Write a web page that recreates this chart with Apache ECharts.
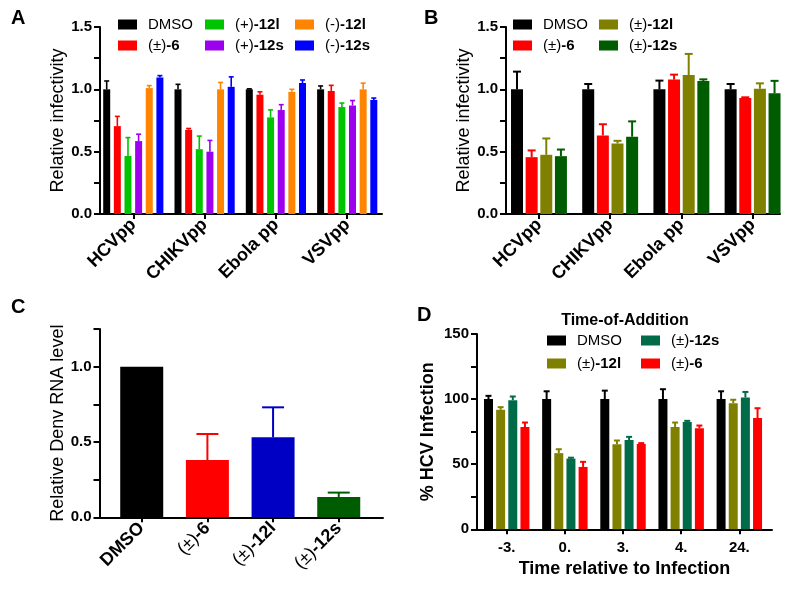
<!DOCTYPE html>
<html><head><meta charset="utf-8">
<script src="https://cdn.jsdelivr.net/npm/echarts@6/dist/echarts.min.js"></script>
<style>html,body{margin:0;padding:0;background:#fff}#c{width:800px;height:592px}</style>
</head><body><div id="c"></div>
<script>
// ---------- Panel A ----------
const catsAB = ['HCVpp', 'CHIKVpp', 'Ebola pp', 'VSVpp'];
const namesA = ['DMSO', '(±)-6', '(+)-12l', '(+)-12s', '(-)-12l', '(-)-12s'];
const aDMSO = [1.00, 1.00, 1.00, 1.00];
const aDMSOErr = [0.067, 0.04, 0.004, 0.027];
const a6 = [0.705, 0.675, 0.957, 0.987];
const a6Err = [0.078, 0.011, 0.023, 0.045];
const aP12l = [0.465, 0.52, 0.775, 0.858];
const aP12lErr = [0.148, 0.105, 0.06, 0.032];
const aP12s = [0.585, 0.50, 0.834, 0.87];
const aP12sErr = [0.055, 0.09, 0.043, 0.04];
const aM12l = [1.01, 1.00, 0.98, 1.00];
const aM12lErr = [0.02, 0.055, 0.02, 0.05];
const aM12s = [1.095, 1.02, 1.05, 0.915];
const aM12sErr = [0.015, 0.08, 0.025, 0.015];

// ---------- Panel B ----------
const namesB = ['DMSO', '(±)-6', '(±)-12l', '(±)-12s'];
const bDMSO = [1.00, 1.00, 1.00, 1.00];
const bDMSOErr = [0.142, 0.043, 0.07, 0.043];
const b6 = [0.456, 0.63, 1.078, 0.93];
const b6Err = [0.054, 0.09, 0.04, 0.006];
const b12l = [0.475, 0.566, 1.115, 1.005];
const b12lErr = [0.131, 0.021, 0.169, 0.043];
const b12s = [0.464, 0.62, 1.067, 0.968];
const b12sErr = [0.053, 0.123, 0.013, 0.10];

// ---------- Panel C ----------
const catsC = ['DMSO', '(±)-6', '(±)-12l', '(±)-12s'];
const cVals = [1.00, 0.38, 0.531, 0.135];
const cErr = [0, 0.173, 0.199, 0.029];

// ---------- Panel D ----------
const catsD = ['-3.', '0.', '3.', '4.', '24.'];
const namesD = ['DMSO', '(±)-12l', '(±)-12s', '(±)-6'];
const dDMSO = [100, 100, 100, 100, 100];
const dDMSOErr = [2.5, 6, 6.5, 7.6, 6];
const d12l = [91.8, 58.5, 65.4, 78.5, 96.9];
const d12lErr = [2, 3, 2.8, 3.5, 2.6];
const d12s = [99.2, 54.3, 68.5, 82.5, 101.2];
const d12sErr = [2.8, 0.7, 2.5, 0.8, 4.3];
const d6 = [78.5, 47.9, 65.6, 77.7, 85.4];
const d6Err = [3.5, 3.9, 0.6, 2, 7.6];

// ---------- styles ----------
const FONT = "'Liberation Sans', Arial, sans-serif";
const colorsA = ['#000000', '#ff0000', '#00c400', '#9d00ee', '#ff8400', '#0000ff'];
const colorsB = ['#000000', '#ff0000', '#808000', '#005c00'];
const colorsC = ['#000000', '#ff0000', '#0000c4', '#005c00'];
const colorsD = ['#000000', '#808000', '#006b48', '#ff0000'];

// (±) prefix in regular weight, the rest in the given style
function richLabel(s, plainStyle) {
  const m = s.match(/^(\([^)]*\))(.*)$/);
  if (!m) return '{' + plainStyle + '|' + s + '}';
  return '{r|' + m[1] + '}{b|' + m[2] + '}';
}

function groupSeries(panel, g, names, vals, errs, colors, bw, gapFrac, capW, lw) {
  const out = [];
  const n = names.length;
  const pitch = bw * (1 + gapFrac);
  names.forEach((nm, i) => {
    out.push({
      type: 'bar', name: panel + ':' + nm, xAxisIndex: g, yAxisIndex: g,
      data: vals[i].map((v, j) => [j, v]),
      barWidth: bw, barGap: (gapFrac * 100) + '%',
      itemStyle: { color: colors[i] }, silent: true, z: 2
    });
    const off = (i - (n - 1) / 2) * pitch;
    const col = colors[i];
    out.push({
      type: 'custom', name: 'err' + panel + i, xAxisIndex: g, yAxisIndex: g,
      data: vals[i].map((v, j) => [j, v, errs[i][j]]),
      encode: { x: 0, y: 1 }, silent: true, z: 3, clip: false,
      renderItem: function (params, api) {
        const x = api.value(0), v = api.value(1), e = api.value(2);
        const p0 = api.coord([x, v]);
        const p1 = api.coord([x, v + e]);
        const cx = p0[0] + off;
        return { type: 'group', children: [
          { type: 'line', shape: { x1: cx, y1: p0[1], x2: cx, y2: p1[1] }, style: { stroke: col, lineWidth: lw } },
          { type: 'line', shape: { x1: cx - capW / 2, y1: p1[1], x2: cx + capW / 2, y2: p1[1] }, style: { stroke: col, lineWidth: lw } }
        ] };
      }
    });
  });
  return out;
}

const seriesAll = [].concat(
  groupSeries('A', 0, namesA, [aDMSO, a6, aP12l, aP12s, aM12l, aM12s],
    [aDMSOErr, a6Err, aP12lErr, aP12sErr, aM12lErr, aM12sErr], colorsA, 7, 0.52, 5, 1.6),
  groupSeries('B', 1, namesB, [bDMSO, b6, b12l, b12s],
    [bDMSOErr, b6Err, b12lErr, b12sErr], colorsB, 12, 0.22, 8, 2),
  groupSeries('D', 3, namesD, [dDMSO, d12l, d12s, d6],
    [dDMSOErr, d12lErr, d12sErr, d6Err], colorsD, 9, 0.35, 6, 2)
);
// Panel C: single series, one colour per bar
seriesAll.push({
  type: 'bar', name: 'C:bars', xAxisIndex: 2, yAxisIndex: 2, silent: true, z: 2,
  barWidth: 43,
  data: cVals.map((v, j) => ({ value: [j, v], itemStyle: { color: colorsC[j] } }))
});
seriesAll.push({
  type: 'custom', name: 'errC', xAxisIndex: 2, yAxisIndex: 2, silent: true, z: 3, clip: false,
  encode: { x: 0, y: 1 },
  data: cVals.map((v, j) => [j, v, cErr[j]]),
  renderItem: function (params, api) {
    const x = api.value(0), v = api.value(1), e = api.value(2);
    if (!e) return { type: 'group', children: [] };
    const p0 = api.coord([x, v]);
    const p1 = api.coord([x, v + e]);
    const col = colorsC[params.dataIndex];
    return { type: 'group', children: [
      { type: 'line', shape: { x1: p0[0], y1: p0[1], x2: p0[0], y2: p1[1] }, style: { stroke: col, lineWidth: 2 } },
      { type: 'line', shape: { x1: p0[0] - 11, y1: p1[1], x2: p0[0] + 11, y2: p1[1] }, style: { stroke: col, lineWidth: 2 } }
    ] };
  }
});

const axisLine = { show: true, onZero: false, lineStyle: { color: '#000', width: 2 } };
const tick = (len) => ({ show: true, length: len, lineStyle: { color: '#000', width: 2 } });
const rich = {
  r: { fontFamily: FONT, fontSize: 18, fontWeight: 'normal', color: '#000' },
  b: { fontFamily: FONT, fontSize: 18, fontWeight: 'bold', color: '#000' }
};

function xCat(g, cats, min, max, opts) {
  const idx = cats.map((c, i) => i);
  return Object.assign({
    gridIndex: g, type: 'value', min: min, max: max,
    axisLine: axisLine, splitLine: { show: false },
    axisTick: Object.assign(tick(5), { customValues: idx }),
    axisLabel: {
      customValues: idx, rotate: 45, margin: 8, rich: rich,
      formatter: (v) => richLabel(cats[Math.round(v)], 'b')
    }
  }, opts || {});
}
function yVal(g, max, interval, labelStep, digits, name, nameGap, nameBold) {
  return {
    gridIndex: g, type: 'value', min: 0, max: max, interval: interval,
    axisLine: axisLine, splitLine: { show: false }, axisTick: tick(6),
    axisLabel: {
      margin: 8, fontFamily: FONT, fontSize: 15, fontWeight: 'bold', color: '#000',
      formatter: (v) => {
        const k = v / labelStep;
        return Math.abs(k - Math.round(k)) < 1e-6 ? v.toFixed(digits) : '';
      }
    },
    name: name, nameLocation: 'middle', nameGap: nameGap,
    nameTextStyle: { fontFamily: FONT, fontSize: 18, fontWeight: nameBold ? 'bold' : 'normal', color: '#000' }
  };
}

function legendItem(panel, name, left, top) {
  return {
    data: [panel + ':' + name], left: left, top: top, padding: 0,
    icon: 'rect', itemWidth: 19, itemHeight: 10, selectedMode: false,
    formatter: (n) => richLabel(n.split(':')[1], 'r'),
    textStyle: {
      fontFamily: FONT, fontSize: 15, color: '#000',
      rich: {
        r: { fontFamily: FONT, fontSize: 15, fontWeight: 'normal', color: '#000', padding: [0, 0, 0, 6] },
        b: { fontFamily: FONT, fontSize: 15, fontWeight: 'bold', color: '#000' }
      }
    }
  };
}

const option = {
  animation: false,
  backgroundColor: '#fff',
  textStyle: { fontFamily: FONT },
  grid: [
    { left: 100, top: 27, width: 282, height: 187, outerBoundsMode: 'none' },
    { left: 506, top: 27, width: 274, height: 187, outerBoundsMode: 'none' },
    { left: 99.5, top: 329, width: 283.5, height: 188.3, outerBoundsMode: 'none' },
    { left: 477, top: 334, width: 295, height: 195.3, outerBoundsMode: 'none' }
  ],
  xAxis: [
    xCat(0, catsAB, -0.467, 3.488),
    xCat(1, catsAB, -0.463, 3.385),
    xCat(2, catsC, -0.643, 3.674),
    xCat(3, catsD, -0.511, 4.562, {
      axisLabel: {
        customValues: catsD.map((c, i) => i), rotate: 0, margin: 11,
        fontFamily: FONT, fontSize: 15, fontWeight: 'bold', color: '#000',
        formatter: (v) => catsD[Math.round(v)]
      },
      name: 'Time relative to Infection', nameLocation: 'middle', nameGap: 31,
      nameTextStyle: { fontFamily: FONT, fontSize: 18, fontWeight: 'bold', color: '#000' }
    })
  ],
  yAxis: [
    yVal(0, 1.5, 0.25, 0.5, 1, 'Relative infectivity', 31, false),
    yVal(1, 1.5, 0.25, 0.5, 1, 'Relative infectivity', 32, false),
    yVal(2, 1.25, 0.25, 0.5, 1, 'Relative Denv RNA level', 32, false),
    yVal(3, 150, 25, 50, 0, '% HCV Infection', 40, true)
  ],
  legend: [
    legendItem('A', namesA[0], 118, 17), legendItem('A', namesA[1], 118, 38),
    legendItem('A', namesA[2], 205, 17), legendItem('A', namesA[3], 205, 38),
    legendItem('A', namesA[4], 295, 17), legendItem('A', namesA[5], 295, 38),
    legendItem('B', namesB[0], 513, 17), legendItem('B', namesB[1], 513, 38),
    legendItem('B', namesB[2], 599, 17), legendItem('B', namesB[3], 599, 38),
    legendItem('D', namesD[0], 547, 333), legendItem('D', namesD[2], 641, 333),
    legendItem('D', namesD[1], 547, 356), legendItem('D', namesD[3], 641, 356)
  ],
  graphic: [
    { type: 'text', left: 11, top: 8, style: { text: 'A', font: 'bold 20px ' + FONT, fill: '#000' } },
    { type: 'text', left: 424, top: 8, style: { text: 'B', font: 'bold 20px ' + FONT, fill: '#000' } },
    { type: 'text', left: 11, top: 297, style: { text: 'C', font: 'bold 20px ' + FONT, fill: '#000' } },
    { type: 'text', left: 417, top: 305, style: { text: 'D', font: 'bold 20px ' + FONT, fill: '#000' } },
    { type: 'text', x: 625, y: 321, style: { text: 'Time-of-Addition', font: 'bold 16px ' + FONT, fill: '#000', align: 'center', verticalAlign: 'middle', textAlign: 'center', textVerticalAlign: 'middle' } }
  ],
  series: seriesAll
};

const chart = echarts.init(document.getElementById('c'), null, { renderer: 'canvas' });
chart.setOption(option);
</script>
</body></html>
